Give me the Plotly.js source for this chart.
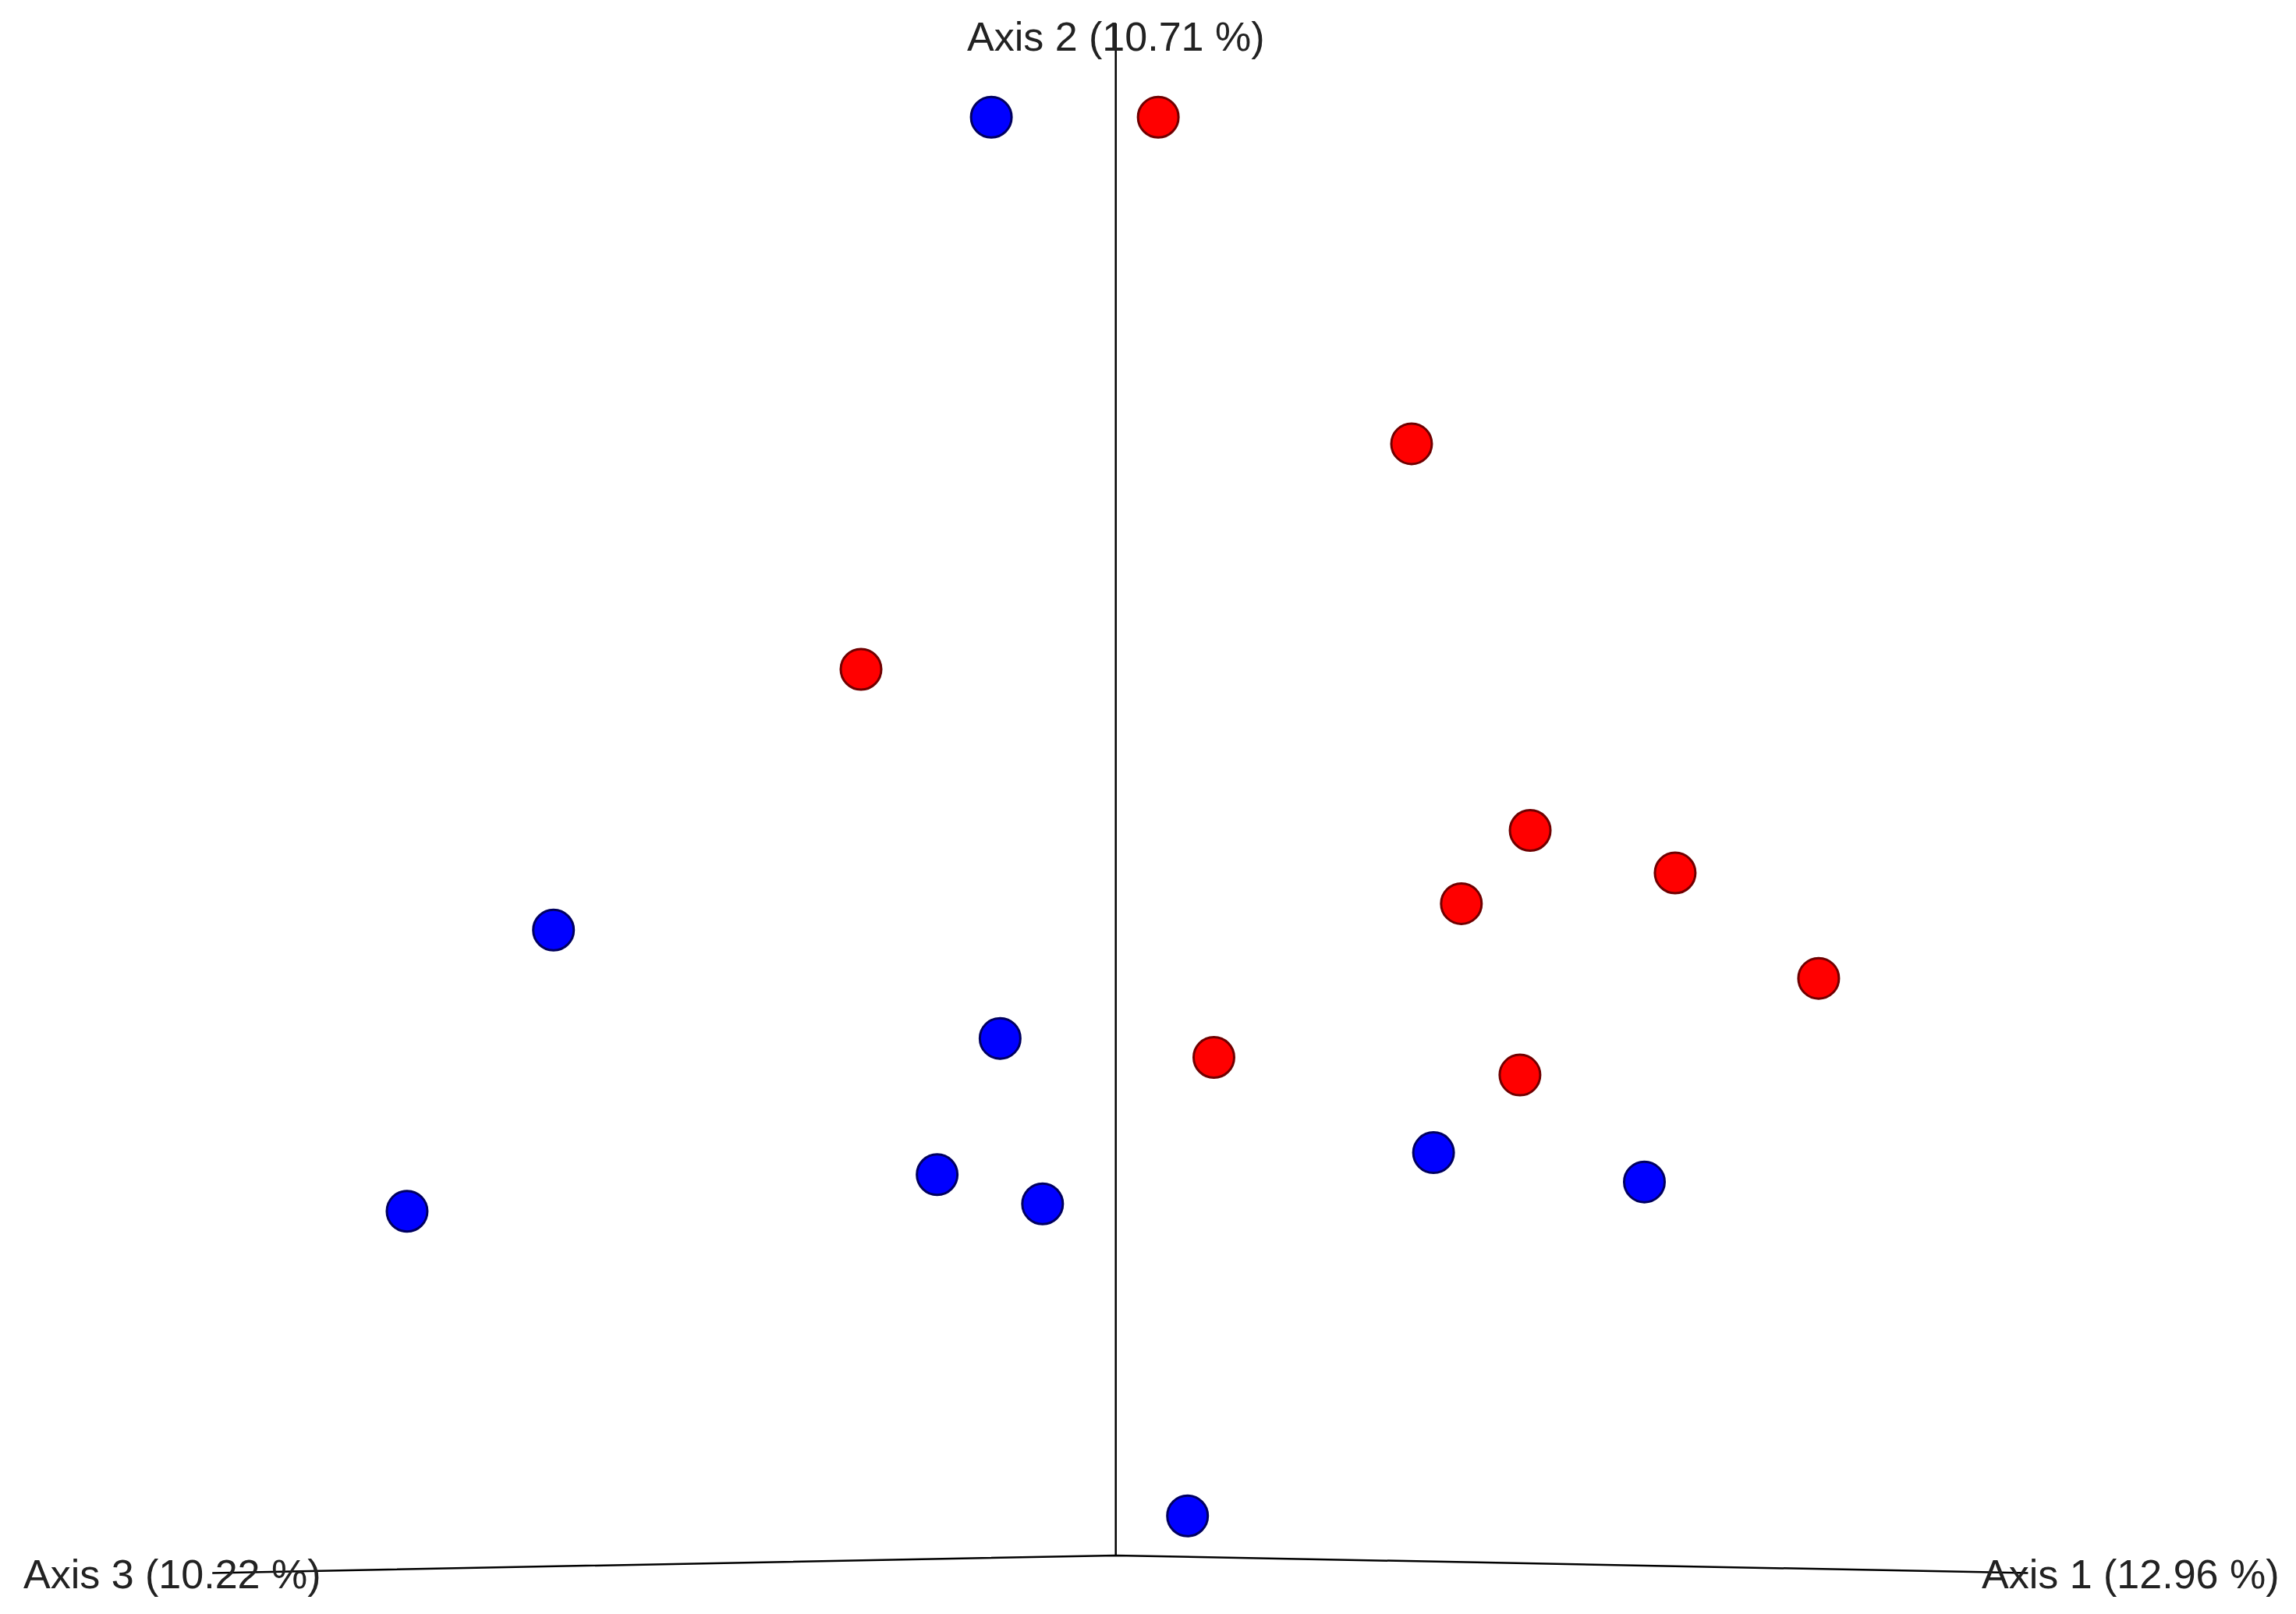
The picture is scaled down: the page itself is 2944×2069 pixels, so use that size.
<!DOCTYPE html>
<html>
<head>
<meta charset="utf-8">
<script src="https://cdn.plot.ly/plotly-3.0.1.min.js"></script>
<style>
  html, body { margin: 0; padding: 0; background: #ffffff; }
  #pcoa_plot { width: 2944px; height: 2069px; }
</style>
</head>
<body>
<div id="pcoa_plot"></div>
<script>
// projected sample coordinates, origin at the axes junction
const group_a_x = [-0.085, -0.384, -0.079, -0.122, -0.050, -0.484, 0.217, 0.361, 0.049];
const group_a_y = [0.982, 0.427, 0.353, 0.260, 0.240, 0.235, 0.275, 0.255, 0.027];

const group_b_x = [0.029, 0.202, -0.174, 0.283, 0.382, 0.236, 0.480, 0.067, 0.276];
const group_b_y = [0.982, 0.759, 0.605, 0.495, 0.466, 0.445, 0.394, 0.340, 0.328];

const axis_labels = ["Axis 1 (12.96 %)", "Axis 2 (10.71 %)", "Axis 3 (10.22 %)"];

// end points of the three drawn axes (projected)
const axis_1_end = [0.623, -0.012];
const axis_2_end = [0.0, 1.046];
const axis_3_end = [-0.617, -0.012];

function pcoa_init()
{
    const plot_div = document.getElementById("pcoa_plot");

    const axis_line = {color: "#000000", width: 2.5};
    const axes_trace = {
        x: [axis_3_end[0], 0, axis_1_end[0], null, 0, axis_2_end[0]],
        y: [axis_3_end[1], 0, axis_1_end[1], null, 0, axis_2_end[1]],
        mode: "lines", line: axis_line, hoverinfo: "skip", showlegend: false
    };
    const group_a_trace = {
        x: group_a_x, y: group_a_y, mode: "markers", showlegend: false,
        marker: {size: 52, color: "#0000ff", line: {color: "#000060", width: 3}}
    };
    const group_b_trace = {
        x: group_b_x, y: group_b_y, mode: "markers", showlegend: false,
        marker: {size: 52, color: "#ff0000", line: {color: "#700000", width: 3}}
    };

    const label_font = {family: "Liberation Sans, Arial, sans-serif", size: 52, color: "#222222"};
    const layout = {
        width: 2944, height: 2069,
        margin: {l: 0, r: 0, t: 0, b: 0},
        paper_bgcolor: "#ffffff", plot_bgcolor: "#ffffff",
        xaxis: {range: [-0.762, 0.806], visible: false, fixedrange: true},
        yaxis: {range: [-0.040, 1.062], visible: false, fixedrange: true},
        annotations: [
            {x: 0, y: 1.037, text: axis_labels[1], showarrow: false, xanchor: "center", yanchor: "middle", font: label_font},
            {x: -0.747, y: -0.013, text: axis_labels[2], showarrow: false, xanchor: "left", yanchor: "middle", font: label_font},
            {x: 0.796, y: -0.013, text: axis_labels[0], showarrow: false, xanchor: "right", yanchor: "middle", font: label_font}
        ]
    };
    Plotly.newPlot(plot_div, [axes_trace, group_a_trace, group_b_trace], layout, {staticPlot: true});
}

pcoa_init();
</script>
</body>
</html>
